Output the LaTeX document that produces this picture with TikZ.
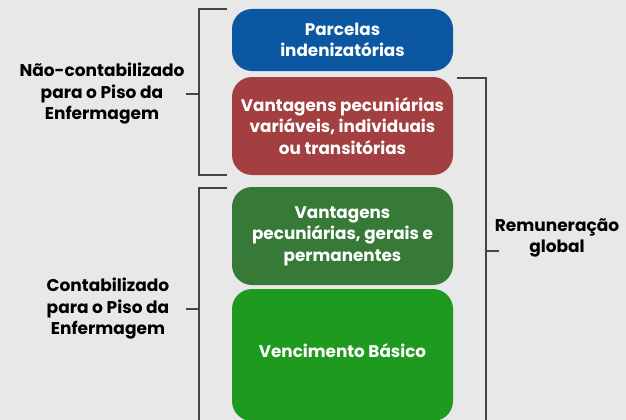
\documentclass[tikz,border=0pt]{standalone}
\usepackage{fontspec}
\setmainfont{Poppins}
\definecolor{bg}{HTML}{E8E8E8}
\definecolor{cblue}{HTML}{0B57A2}
\definecolor{cred}{HTML}{A33F40}
\definecolor{cdgreen}{HTML}{377A38}
\definecolor{cgreen}{HTML}{1E9B1F}
\definecolor{cline}{HTML}{444444}
\tikzset{
  box/.style={rounded corners=20pt, minimum width=221pt, inner sep=0pt, text=white, align=center, font=\bfseries\fontsize{16.8}{21.5}\selectfont},
  boxtext/.style={text=white, align=center, font=\bfseries\fontsize{16.8}{21.5}\selectfont},
  lbl/.style={text=black, align=center, font=\bfseries\fontsize{17}{21.5}\selectfont},
  brk/.style={draw=cline, line width=1.3pt},
}
\begin{document}
\begin{tikzpicture}[x=1pt,y=-1pt]
\useasboundingbox (0,0) rectangle (626,420);
\fill[bg] (0,0) rectangle (626,420);
\clip (0,0) rectangle (626,420);
\node[box, fill=cblue, minimum height=62pt] (b1) at (342.5,40) {Parcelas\\indenizatórias};
\node[box, fill=cred, minimum height=98pt] (b2) at (342.5,126) {Vantagens pecuniárias\\variáveis, individuais\\ou transitórias};
\node[box, fill=cdgreen, minimum height=98pt] (b3) at (342.5,236) {Vantagens\\pecuniárias, gerais e\\permanentes};
\node[box, fill=cgreen, minimum height=132pt] (b4) at (342.5,355) {};
\node[boxtext] (t4) at (342.5,351) {Vencimento Básico};
\node[lbl] (l1) at (102,94) {Não-contabilizado\\para o Piso da\\Enfermagem};
\node[lbl] (l2) at (108,309) {Contabilizado\\para o Piso da\\Enfermagem};
\node[lbl] (l3) at (557,238) {Remuneração\\global};
% upper left bracket
\draw[brk] (227,9) -- (199,9) -- (199,175) -- (227,175);
\draw[brk] (199,94) -- (186,94);
% lower left bracket
\draw[brk] (227,188) -- (199,188) -- (199,425);
\draw[brk] (199,309) -- (186,309);
% right bracket
\draw[brk] (457,78) -- (486,78) -- (486,425);
\draw[brk] (486,251) -- (499,251);
\end{tikzpicture}
\end{document}
